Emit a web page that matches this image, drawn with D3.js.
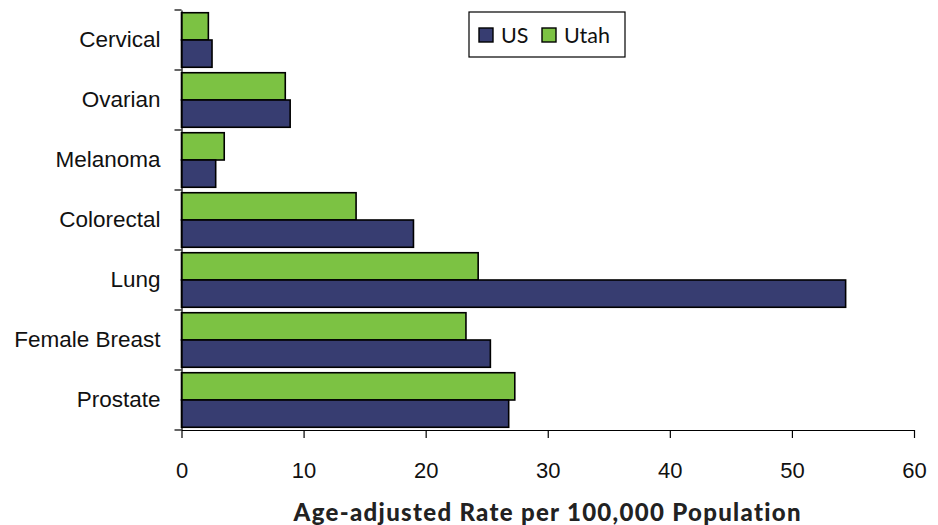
<!DOCTYPE html>
<html>
<head>
<meta charset="utf-8">
<script src="https://cdn.jsdelivr.net/npm/d3@7"></script>
<style>
  body { margin: 0; background: #fff; }
  svg { display: block; font-family: Lato, "Open Sans", sans-serif; }
</style>
</head>
<body>
<svg id="chart" width="938" height="525"></svg>
<script>
// Cancer death rates, age-adjusted per 100,000
const categories = ["Cervical", "Ovarian", "Melanoma", "Colorectal", "Lung", "Female Breast", "Prostate"];
const seriesNames = ["Utah", "US"];
const utahValues = [2.2, 8.5, 3.5, 14.3, 24.3, 23.3, 27.3];
const usValues = [2.5, 8.9, 2.8, 19.0, 54.4, 25.3, 26.8];
const xTicks = [0, 10, 20, 30, 40, 50, 60];
const legendNames = ["US", "Utah"];

const colors = { US: "#373d71", Utah: "#7cc243" };

const svg = d3.select("#chart");
const margin = { left: 181.5, right: 938 - 914, top: 10, bottom: 525 - 430 };
const width = 938 - margin.left - margin.right;
const height = 525 - margin.top - margin.bottom;

const g = svg.append("g").attr("transform", `translate(${margin.left},${margin.top})`);

const x = d3.scaleLinear().domain([0, 60]).range([0, width]);
const y = d3.scaleBand().domain(categories).range([0, height]).paddingInner(0).paddingOuter(0);
const ySub = d3.scaleBand().domain(seriesNames).range([0, y.bandwidth()]).paddingOuter(0.1).paddingInner(0);

const rows = categories.map((c, i) => ({ cat: c, Utah: utahValues[i], US: usValues[i] }));

// bars
const groups = g.selectAll("g.cat").data(rows).join("g")
  .attr("class", "cat")
  .attr("transform", d => `translate(0,${y(d.cat)})`);

groups.selectAll("rect").data(d => seriesNames.map(s => ({ s, v: d[s] }))).join("rect")
  .attr("x", x(0))
  .attr("y", d => ySub(d.s))
  .attr("width", d => x(d.v) - x(0))
  .attr("height", ySub.bandwidth())
  .attr("fill", d => colors[d.s])
  .attr("stroke", "#000")
  .attr("stroke-width", 1.6);

// y axis
const yAxis = g.append("g")
  .call(d3.axisLeft(y).tickSize(0).tickPadding(21));
yAxis.select(".domain").attr("stroke", "#000").attr("stroke-width", 1.2);
yAxis.selectAll("text").attr("font-size", 22.5).attr("fill", "#111");
// category boundary ticks
g.append("g").selectAll("line")
  .data(d3.range(categories.length + 1))
  .join("line")
  .attr("x1", -7).attr("x2", 0)
  .attr("y1", i => i * y.step()).attr("y2", i => i * y.step())
  .attr("stroke", "#000").attr("stroke-width", 1.2);

// x axis
const xAxis = g.append("g")
  .attr("transform", `translate(0,${height})`)
  .call(d3.axisBottom(x).tickValues(xTicks).tickSize(8).tickPadding(24).tickSizeOuter(0));
xAxis.select(".domain").attr("stroke", "#000").attr("stroke-width", 1.2);
xAxis.selectAll(".tick line").attr("stroke", "#000").attr("stroke-width", 1.2);
xAxis.selectAll("text").attr("font-size", 22).attr("fill", "#111");

// axis title
svg.append("text")
  .attr("x", margin.left + width / 2)
  .attr("y", 521)
  .attr("text-anchor", "middle")
  .attr("font-size", 24)
  .attr("font-weight", 900)
  .attr("letter-spacing", 1.3)
  .attr("fill", "#222")
  .text("Age-adjusted Rate per 100,000 Population");

// legend
const legend = svg.append("g").attr("transform", "translate(469,12)");
legend.append("rect")
  .attr("width", 156).attr("height", 45)
  .attr("fill", "#fff").attr("stroke", "#000").attr("stroke-width", 1.2);
const lx = [10, 73];
legendNames.forEach((n, i) => {
  legend.append("rect")
    .attr("x", lx[i]).attr("y", 16).attr("width", 14).attr("height", 14)
    .attr("fill", colors[n]).attr("stroke", "#000").attr("stroke-width", 1.4);
  legend.append("text")
    .attr("x", lx[i] + 22).attr("y", 31)
    .attr("font-size", 21.5).attr("fill", "#111")
    .text(n);
});
</script>
</body>
</html>
